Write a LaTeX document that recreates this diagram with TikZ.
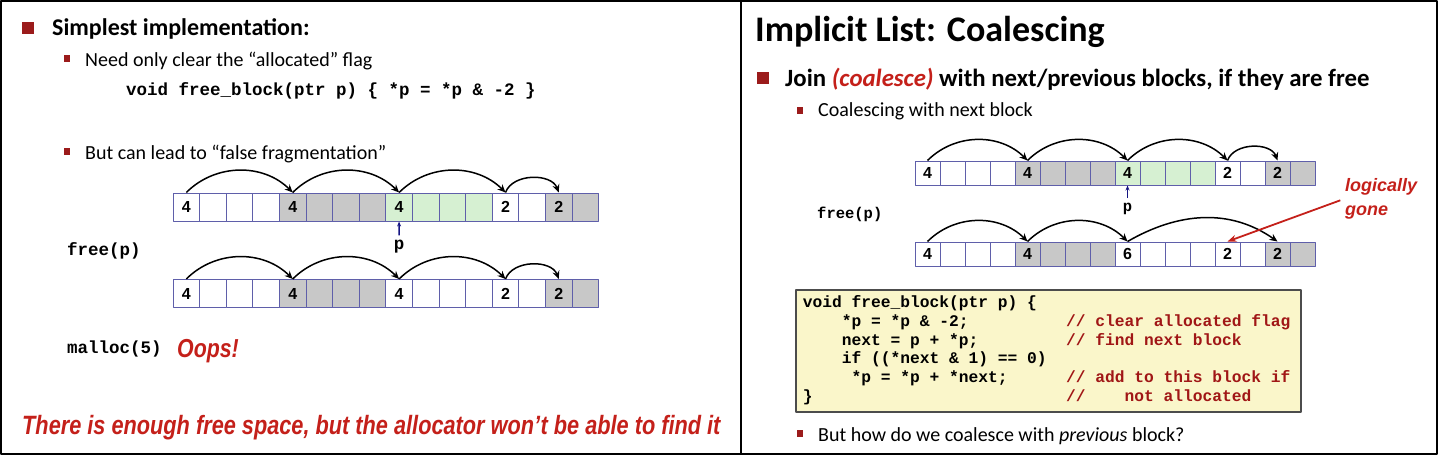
\documentclass[tikz,border=0pt]{standalone}
\usepackage{fontspec}
\setmainfont{Carlito}
\newfontfamily\codefont{Liberation Mono}
\newfontfamily\arialfont{Liberation Sans}
\newfontfamily\narrowfont[FakeStretch=0.82]{Liberation Sans}
\usepackage{tikz}
\usetikzlibrary{positioning, arrows.meta}

\definecolor{bulletred}{RGB}{155,27,27}
\definecolor{textred}{RGB}{196,32,26}
\definecolor{codered}{RGB}{160,22,22}
\definecolor{cellline}{RGB}{95,95,170}
\definecolor{cgray}{RGB}{200,200,200}
\definecolor{cgreen}{RGB}{214,240,210}
\definecolor{codebg}{RGB}{250,246,202}
\definecolor{pblue}{RGB}{20,20,130}

\tikzset{
  frame/.style={line width=2pt},
  bigbullet/.style={fill=bulletred, minimum size=12pt, inner sep=0pt},
  smallbullet/.style={fill=bulletred, minimum width=6pt, minimum height=7pt, inner sep=0pt},
  head/.style={font=\bfseries\fontsize{24}{28}\selectfont, inner sep=0pt, anchor=base west},
  sub/.style={font=\fontsize{20}{24}\selectfont, inner sep=0pt, anchor=base west},
  code/.style={font=\codefont\bfseries\fontsize{17.5}{20}\selectfont, inner sep=0pt},
  shout/.style={font=\narrowfont\bfseries\itshape\fontsize{26.5}{30}\selectfont, text=textred, inner sep=0pt, anchor=base west},
  cell/.style={draw=cellline, line width=1pt, inner sep=0pt, font=\arialfont\bfseries\fontsize{16}{16}\selectfont},
  link/.style={-{Stealth[length=8pt,width=7pt]}, line width=1.5pt},
  pptr/.style={-{Stealth[length=5pt,width=4pt]}, line width=1.5pt, pblue, shorten <=5pt},
}

% one row of heap words: prefix, x0, y, width, height, fill/label list
\newcommand{\heaprow}[6]{%
  \foreach \fl/\lb [count=\i from 0] in {#6}
    \node[cell, fill=\fl, minimum width=#4pt, minimum height=#5pt] (#1\i) at ({#2+(\i+0.5)*#4}, #3) {\lb};
}
\newcommand{\cmt}[1]{\textcolor{codered}{#1}}

\begin{document}
\begin{tikzpicture}[x=1pt, y=-1pt, line join=round]
        \useasboundingbox (0,0) rectangle (1440,456);
        % slide frames
        \draw[frame] (1,1) rectangle (740.5,454);
        \draw[frame] (740.5,1) rectangle (1437,454);

        % left slide: text
        \node[bigbullet] (lb1) at (28,28) {};
        \node[head] (lt1) at (52,35) {Simplest implementation:};
        \node[smallbullet] (lb2) at (67,58) {};
        \node[sub] (lt2) at (85,66) {Need only clear the “allocated” flag};
        \node[code, anchor=base west] (lcode) at (126,95) {void free\_block(ptr p) \{ *p = *p \& -2 \}};
        \node[smallbullet] (lb3) at (67,151) {};
        \node[sub] (lt3) at (85,159) {But can lead to “false fragmentation”};

        % left slide: heap before and after free(p)
        \heaprow{L1-}{173}{207}{26.6}{28}{white/4, white/, white/, white/, cgray/4, cgray/, cgray/, cgray/, cgreen/4, cgreen/, cgreen/, cgreen/, white/2, white/, cgray/2, cgray/}
        \heaprow{L2-}{173}{293.5}{26.6}{28}{white/4, white/, white/, white/, cgray/4, cgray/, cgray/, cgray/, white/4, white/, white/, white/, white/2, white/, cgray/2, cgray/}
        \foreach \a/\b in {0/4, 4/8, 8/12} {
          \draw[link] (L1-\a.north) to[out=45, in=135] (L1-\b.north);
          \draw[link] (L2-\a.north) to[out=45, in=135] (L2-\b.north);
        }
        \draw[link] (L1-12.north) to[out=70, in=110] (L1-14.north);
        \draw[link] (L2-12.north) to[out=70, in=110] (L2-14.north);
        \node[code] (lp) at (399,247) {p};
        \draw[pptr] (lp.north) -- (L1-8.south);
        \node[code, anchor=base west] (lfree) at (67,255) {free(p)};
        \node[code, anchor=base west] (lmalloc) at (67,353) {malloc(5)};
        \node[shout, font=\narrowfont\bfseries\itshape\fontsize{26}{30}\selectfont] (loops) at (177,357) {Oops!};
        \node[shout] (lmsg) at (22,434) {There is enough free space, but the allocator won’t be able to find it};

        % right slide: text
        \node[font=\bfseries\fontsize{36}{40}\selectfont, inner sep=0pt, anchor=base west] (rtitle) at (755,41) {Implicit List: Coalescing};
        \node[bigbullet] (rb1) at (763,78) {};
        \node[head, font=\bfseries\fontsize{24.8}{28}\selectfont] (rt1) at (785,86) {Join \textcolor{textred}{\itshape (coalesce)} with next/previous blocks, if they are free};
        \node[smallbullet] (rb2) at (800,110) {};
        \node[sub] (rt2) at (818,116) {Coalescing with next block};

        % right slide: heap before and after coalescing
        \heaprow{R1-}{915}{173}{25}{24}{white/4, white/, white/, white/, cgray/4, cgray/, cgray/, cgray/, cgreen/4, cgreen/, cgreen/, cgreen/, white/2, white/, cgray/2, cgray/}
        \heaprow{R2-}{915}{254}{25}{24}{white/4, white/, white/, white/, cgray/4, cgray/, cgray/, cgray/, white/6, white/, white/, white/, white/2, white/, cgray/2, cgray/}
        \foreach \a/\b in {0/4, 4/8} {
          \draw[link] (R1-\a.north) to[out=45, in=135] (R1-\b.north);
          \draw[link] (R2-\a.north) to[out=45, in=135] (R2-\b.north);
        }
        \draw[link] (R1-8.north) to[out=45, in=135] (R1-12.north);
        \draw[link] (R1-12.north) to[out=70, in=110] (R1-14.north);
        \draw[link] (R2-8.north) to[out=30, in=145] (R2-14.north);
        \node[code, font=\codefont\bfseries\fontsize{15.5}{18}\selectfont] (rp) at (1127.5,209) {p};
        \draw[pptr] (rp.north) -- (R1-8.south);
        \node[code, font=\codefont\bfseries\fontsize{15.5}{18}\selectfont, anchor=base west] (rfree) at (817,218) {free(p)};
        \node[shout, font=\arialfont\bfseries\itshape\fontsize{18}{24}\selectfont, align=left, anchor=north west] (lg) at (1345,178) {logically\\gone};
        \draw[-{Stealth[length=9pt,width=7pt]}, line width=1.8pt, textred, shorten <=5pt] (lg.west) -- (R2-12.north);

        % right slide: code box
        \node[draw=black!70, line width=1.5pt, fill=codebg, anchor=north west, minimum width=505pt, minimum height=122pt,
              inner xsep=7pt, font=\codefont\bfseries\fontsize{16.25}{18.8}\selectfont] (rcode) at (795,289)
          {\makebox[491pt][l]{\begin{tabular}{@{}l@{}}
           void free\_block(ptr p) \{\\
           \phantom{xxxx}*p = *p \& -2;\phantom{xxxxxxxxxx}\cmt{// clear allocated flag}\\
           \phantom{xxxx}next = p + *p;\phantom{xxxxxxxxx}\cmt{// find next block}\\
           \phantom{xxxx}if ((*next \& 1) == 0)\\
           \phantom{xxxxx}*p = *p + *next;\phantom{xxxxxx}\cmt{// add to this block if}\\
           \}\phantom{xxxxxxxxxxxxxxxxxxxxxxxxxx}\cmt{//\phantom{xxxx}not allocated}
           \end{tabular}}};
        \node[smallbullet] (rb3) at (800,433) {};
        \node[sub] (rt3) at (818,441) {But how do we coalesce with \emph{previous} block?};
\end{tikzpicture}
\end{document}
